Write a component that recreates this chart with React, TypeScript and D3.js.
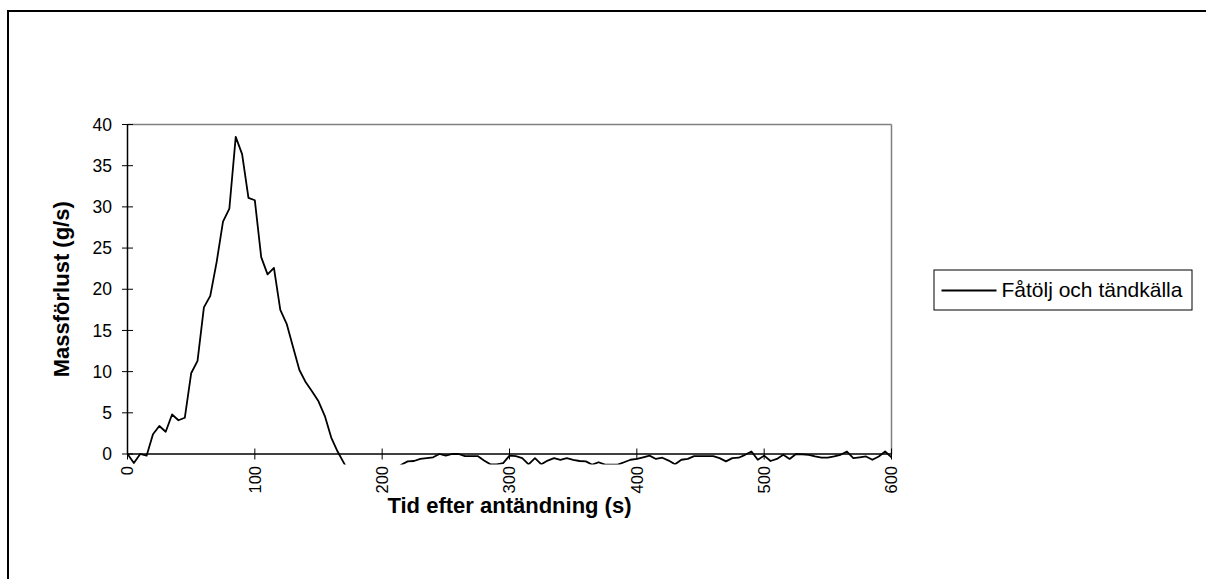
import React from "react";
import * as d3 from "d3";

const times: number[] = [
  0, 5, 10, 15, 20, 25, 30, 35, 40, 45, 50, 55, 60, 65, 70, 75, 80, 85, 90, 95,
  100, 105, 110, 115, 120, 125, 130, 135, 140, 145, 150, 155, 160, 165, 170, 175, 180, 185, 190, 195,
  200, 205, 210, 215, 220, 225, 230, 235, 240, 245, 250, 255, 260, 265, 270, 275, 280, 285, 290, 295,
  300, 305, 310, 315, 320, 325, 330, 335, 340, 345, 350, 355, 360, 365, 370, 375, 380, 385, 390, 395,
  400, 405, 410, 415, 420, 425, 430, 435, 440, 445, 450, 455, 460, 465, 470, 475, 480, 485, 490, 495,
  500, 505, 510, 515, 520, 525, 530, 535, 540, 545, 550, 555, 560, 565, 570, 575, 580, 585, 590, 595,
  600,
];

const massLoss: number[] = [
  0, -1.1, 0, -0.2, 2.4, 3.4, 2.7, 4.8, 4.1, 4.4, 9.8, 11.3, 17.8, 19.2, 23.3, 28.2, 29.8, 38.5, 36.4, 31.1,
  30.8, 23.9, 21.8, 22.6, 17.5, 15.8, 13.0, 10.2, 8.7, 7.6, 6.4, 4.6, 2.0, 0.3, -1.1, -2.5, -3.0, -2.8, -3.2, -2.6,
  -2.9, -2.4, -2.0, -1.3, -0.9, -0.85, -0.6, -0.5, -0.4, 0, -0.2, 0, 0, -0.25, -0.25, -0.25, -0.8, -1.25, -1.25, -1.1,
  -0.2, -0.25, -0.5, -1.25, -0.5, -1.25, -0.8, -0.5, -0.7, -0.5, -0.7, -0.85, -0.9, -1.3, -1.0, -1.3, -1.3, -1.3, -1.0, -0.7,
  -0.6, -0.4, -0.2, -0.6, -0.45, -0.8, -1.25, -0.7, -0.6, -0.25, -0.25, -0.25, -0.25, -0.5, -0.9, -0.5, -0.45, -0.1, 0.3, -0.7,
  -0.2, -0.85, -0.6, -0.1, -0.6, 0, -0.05, -0.1, -0.3, -0.45, -0.45, -0.3, -0.1, 0.3, -0.5, -0.4, -0.3, -0.7, -0.3, 0.3,
  -0.4,
];

const xTicks: number[] = [0, 100, 200, 300, 400, 500, 600];
const yTicks: number[] = [0, 5, 10, 15, 20, 25, 30, 35, 40];

const seriesName = "Fåtölj och tändkälla";
const xTitle = "Tid efter antändning (s)";
const yTitle = "Massförlust (g/s)";

export default function App() {
  const left = 127.5;
  const right = 891.5;
  const top = 124.5;
  const bottom = 454;

  const x = d3.scaleLinear().domain([0, 600]).range([left, right]);
  const y = d3.scaleLinear().domain([0, 40]).range([bottom, top]);

  const data = times.map((t, i) => [t, massLoss[i]] as [number, number]);
  const line = d3
    .line<[number, number]>()
    .x((d) => x(d[0]))
    .y((d) => y(d[1]));

  const font = "Arial, 'Liberation Sans', sans-serif";

  return (
    <svg
      width={1206}
      height={579}
      style={{ position: "absolute", left: 0, top: 0, background: "#fff" }}
    >
      <defs>
        <clipPath id="plotClip">
          <rect x={left} y={top - 2} width={right - left + 2} height={bottom - top + 12.5} />
        </clipPath>
      </defs>
      <rect x={8} y={11} width={1300} height={700} fill="#fff" stroke="#000" strokeWidth={2} />

      {/* plot frame top/right */}
      <line x1={left} x2={right} y1={top} y2={top} stroke="#808080" strokeWidth={1.5} />
      <line x1={right} x2={right} y1={top} y2={bottom} stroke="#808080" strokeWidth={1.5} />

      {/* y axis */}
      <line x1={left} x2={left} y1={top} y2={bottom} stroke="#000" strokeWidth={1.5} />
      {yTicks.map((v) => (
        <g key={"y" + v}>
          <line x1={left - 5.5} x2={left + 5.5} y1={y(v)} y2={y(v)} stroke="#000" strokeWidth={1} />
          <text
            x={112}
            y={y(v)}
            dy="0.35em"
            textAnchor="end"
            fontFamily={font}
            fontSize={17.5}
            fill="#000"
          >
            {v}
          </text>
        </g>
      ))}

      {/* x axis */}
      <line x1={left} x2={right} y1={bottom} y2={bottom} stroke="#000" strokeWidth={1.5} />
      {xTicks.map((v) => (
        <g key={"x" + v}>
          <line x1={x(v)} x2={x(v)} y1={bottom - 5.5} y2={bottom + 5.5} stroke="#000" strokeWidth={1} />
          <text
            transform={`translate(${x(v)},${466}) rotate(-90)`}
            dy="0.35em"
            textAnchor="end"
            fontFamily={font}
            fontSize={16.5}
            fill="#000"
          >
            {v}
          </text>
        </g>
      ))}

      {/* data line */}
      <path
        d={line(data) || ""}
        fill="none"
        stroke="#000"
        strokeWidth={1.8}
        strokeLinejoin="round"
        clipPath="url(#plotClip)"
      />

      {/* axis titles */}
      <text
        x={(left + right) / 2}
        y={513}
        textAnchor="middle"
        fontFamily={font}
        fontWeight="bold"
        fontSize={22}
        fill="#000"
      >
        {xTitle}
      </text>
      <text
        transform={`translate(${69},${(top + bottom) / 2}) rotate(-90)`}
        textAnchor="middle"
        fontFamily={font}
        fontWeight="bold"
        fontSize={22}
        fill="#000"
      >
        {yTitle}
      </text>

      {/* legend */}
      <rect x={934} y={270} width={258} height={40} fill="#fff" stroke="#000" strokeWidth={1} />
      <line x1={941.5} x2={996.5} y1={290.5} y2={290.5} stroke="#000" strokeWidth={1.8} />
      <text x={1001.5} y={297} fontFamily={font} fontSize={21} fill="#000">
        {seriesName}
      </text>
    </svg>
  );
}
